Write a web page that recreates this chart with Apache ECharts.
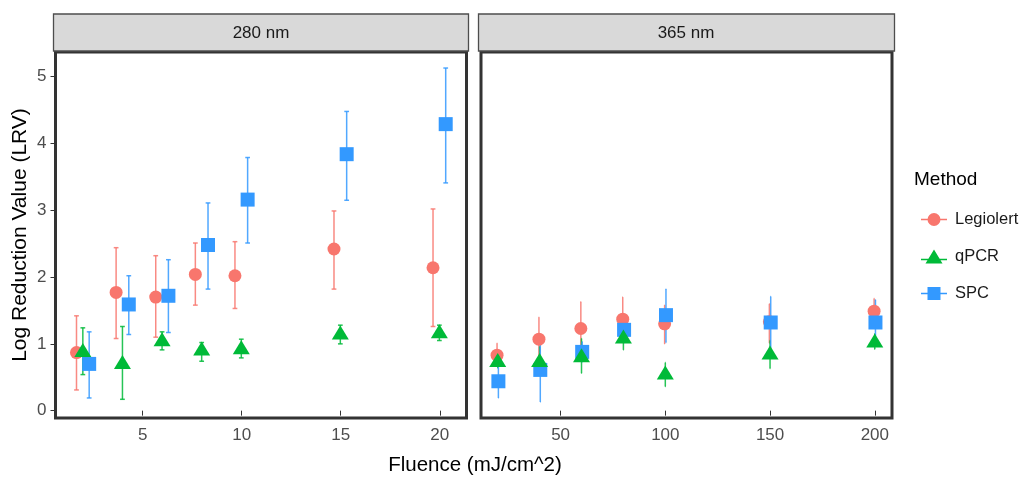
<!DOCTYPE html>
<html>
<head>
<meta charset="utf-8">
<script src="https://cdn.jsdelivr.net/npm/echarts@6/dist/echarts.min.js"></script>
<style>
html,body{margin:0;padding:0;background:#fff}
#chart{width:1025px;height:478px}
</style>
</head>
<body>
<div id="chart"></div>
<script>
var methods = ['Legiolert', 'qPCR', 'SPC'];
var colors = ['#F8766D', '#00BA38', '#3399FF'];

var fluence280 = [2, 4, 6, 8, 10, 15, 20];
var fluence365 = [20, 40, 60, 80, 100, 150, 200];
var ticks280 = [5, 10, 15, 20];
var ticks365 = [50, 100, 150, 200];
var ticksLRV = [0, 1, 2, 3, 4, 5];

// 280 nm
var legiolert280   = [0.87, 1.77, 1.70, 2.04, 2.02, 2.42, 2.14];
var legiolert280Lo = [0.31, 1.08, 1.10, 1.58, 1.53, 1.82, 1.26];
var legiolert280Hi = [1.42, 2.44, 2.32, 2.51, 2.53, 2.99, 3.02];
var qpcr280   = [0.91, 0.73, 1.07, 0.93, 0.95, 1.17, 1.19];
var qpcr280Lo = [0.54, 0.17, 0.91, 0.74, 0.79, 1.00, 1.05];
var qpcr280Hi = [1.24, 1.26, 1.18, 1.02, 1.07, 1.28, 1.28];
var spc280   = [0.70, 1.59, 1.72, 2.48, 3.16, 3.84, 4.29];
var spc280Lo = [0.19, 1.14, 1.17, 1.82, 2.51, 3.15, 3.41];
var spc280Hi = [1.18, 2.02, 2.26, 3.11, 3.79, 4.48, 5.13];

// 365 nm
var legiolert365   = [0.83, 1.07, 1.23, 1.37, 1.30, 1.33, 1.49];
var legiolert365Lo = [0.68, 0.74, 0.83, 1.04, 1.00, 1.01, 1.34];
var legiolert365Hi = [1.01, 1.40, 1.63, 1.70, 1.58, 1.60, 1.68];
var qpcr365   = [0.76, 0.76, 0.83, 1.11, 0.57, 0.87, 1.05];
var qpcr365Lo = [0.64, 0.56, 0.56, 0.91, 0.36, 0.63, 0.92];
var qpcr365Hi = [0.88, 0.96, 1.08, 1.33, 0.72, 1.05, 1.15];
var spc365   = [0.44, 0.61, 0.88, 1.21, 1.43, 1.32, 1.32];
var spc365Lo = [0.19, 0.13, 0.73, 1.02, 1.02, 0.93, 0.98];
var spc365Hi = [0.69, 1.09, 1.03, 1.40, 1.82, 1.71, 1.66];

var dodge = [-0.34, -0.02, 0.3];   // position_dodge, in x units
var capHalf = 0.12;
var font = 'Liberation Sans, Arial, sans-serif';

var panel280 = [[legiolert280, legiolert280Lo, legiolert280Hi],
                [qpcr280, qpcr280Lo, qpcr280Hi],
                [spc280, spc280Lo, spc280Hi]];
var panel365 = [[legiolert365, legiolert365Lo, legiolert365Hi],
                [qpcr365, qpcr365Lo, qpcr365Hi],
                [spc365, spc365Lo, spc365Hi]];

var symbols = ['circle', 'triangle', 'rect'];
var symbolSizes = [13, [17, 14], 14];
var icons = [
  'path://M0,6.3 L26,6.3 L26,7.7 L0,7.7 Z M6.5,7 A6.5,6.5 0 1 1 19.5,7 A6.5,6.5 0 1 1 6.5,7 Z',
  'path://M0,9.3 L26,9.3 L26,10.7 L0,10.7 Z M13,0 L21.5,14 L4.5,14 Z',
  'path://M0,6.3 L26,6.3 L26,7.7 L0,7.7 Z M6.5,0.5 L19.5,0.5 L19.5,13.5 L6.5,13.5 Z'
];

function renderErr(params, api) {
  var x = api.value(0), lo = api.value(1), hi = api.value(2);
  var top = api.coord([x, hi]), bot = api.coord([x, lo]);
  var tl = api.coord([x - capHalf, hi]), tr = api.coord([x + capHalf, hi]);
  var bl = api.coord([x - capHalf, lo]), br = api.coord([x + capHalf, lo]);
  var st = api.style({ stroke: api.visual('color'), lineWidth: 1.5, fill: null });
  st.opacity = 0.85;
  return {
    type: 'group',
    children: [
      { type: 'line', shape: { x1: top[0], y1: top[1], x2: bot[0], y2: bot[1] }, style: st },
      { type: 'line', shape: { x1: tl[0], y1: tl[1], x2: tr[0], y2: tr[1] }, style: st },
      { type: 'line', shape: { x1: bl[0], y1: bl[1], x2: br[0], y2: br[1] }, style: st }
    ]
  };
}

var series = [];
function addPanel(idx, xs, sets) {
  // error bars first, points on top (red, blue, green)
  sets.forEach(function (s, m) {
    series.push({
      name: methods[m], type: 'custom', xAxisIndex: idx, yAxisIndex: idx, z: 2,
      itemStyle: { color: colors[m] },
      renderItem: renderErr,
      encode: { x: 0, y: [1, 2] },
      data: xs.map(function (x, i) { return [x + dodge[m], s[1][i], s[2][i]]; })
    });
  });
  [0, 2, 1].forEach(function (m) {
    var s = sets[m];
    series.push({
      name: methods[m], type: 'scatter', xAxisIndex: idx, yAxisIndex: idx, z: 3,
      symbol: symbols[m], symbolSize: symbolSizes[m],
      itemStyle: { color: colors[m], opacity: 1 },
      data: xs.map(function (x, i) { return [x + dodge[m], s[0][i]]; })
    });
  });
}
addPanel(0, fluence280, panel280);
addPanel(1, fluence365, panel365);

function xAxis(idx, min, max, ticks) {
  return {
    gridIndex: idx, type: 'value', min: min, max: max,
    axisLine: { show: false }, splitLine: { show: false },
    axisTick: { show: true, length: 5, customValues: ticks, lineStyle: { color: '#333', width: 1 } },
    axisLabel: { customValues: ticks, color: '#4D4D4D', fontSize: 17, margin: 9, fontFamily: font }
  };
}
function yAxis(idx, showLabels) {
  return {
    gridIndex: idx, type: 'value', min: -0.11, max: 5.37,
    axisLine: { show: false }, splitLine: { show: false },
    axisTick: { show: showLabels, length: 5, customValues: ticksLRV, lineStyle: { color: '#333', width: 1 } },
    axisLabel: { show: showLabels, customValues: ticksLRV, color: '#4D4D4D', fontSize: 17, margin: 9, fontFamily: font }
  };
}

var chart = echarts.init(document.getElementById('chart'));
chart.setOption({
  animation: false,
  backgroundColor: '#fff',
  grid: [
    { left: 55.5, top: 52, width: 411, height: 366, show: true, borderColor: '#333', borderWidth: 3, backgroundColor: '#fff' },
    { left: 481, top: 52, width: 411, height: 366, show: true, borderColor: '#333', borderWidth: 3, backgroundColor: '#fff' }
  ],
  xAxis: [xAxis(0, 0.6, 21.35, ticks280), xAxis(1, 12, 208.2, ticks365)],
  yAxis: [yAxis(0, true), yAxis(1, false)],
  legend: {
    orient: 'vertical', left: 916, top: 206,
    itemWidth: 26, itemHeight: 14, itemGap: 20, selectedMode: false,
    textStyle: { fontSize: 16.5, color: '#1A1A1A', fontFamily: font, padding: [0, 0, 0, 3] },
    data: methods.map(function (m, i) { return { name: m, icon: icons[i] }; })
  },
  graphic: [
    { type: 'rect', shape: { x: 53.5, y: 14, width: 415, height: 37 }, style: { fill: '#D9D9D9', stroke: '#4D4D4D', lineWidth: 1.3 }, z: 1 },
    { type: 'rect', shape: { x: 478.5, y: 14, width: 416, height: 37 }, style: { fill: '#D9D9D9', stroke: '#4D4D4D', lineWidth: 1.3 }, z: 1 },
    { type: 'text', x: 261, y: 33, style: { text: '280 nm', fontSize: 17, fontFamily: font, fill: '#1A1A1A', textAlign: 'center', textVerticalAlign: 'middle' }, z: 2 },
    { type: 'text', x: 686, y: 33, style: { text: '365 nm', fontSize: 17, fontFamily: font, fill: '#1A1A1A', textAlign: 'center', textVerticalAlign: 'middle' }, z: 2 },
    { type: 'text', x: 475, y: 465, style: { text: 'Fluence (mJ/cm^2)', fontSize: 20.5, fontFamily: font, fill: '#000', textAlign: 'center', textVerticalAlign: 'middle' } },
    { type: 'text', x: 20, y: 235, rotation: Math.PI / 2, style: { text: 'Log Reduction Value (LRV)', fontSize: 21, fontFamily: font, fill: '#000', textAlign: 'center', textVerticalAlign: 'middle' } },
    { type: 'text', x: 914, y: 180, style: { text: 'Method', fontSize: 19, fontFamily: font, fill: '#000', textAlign: 'left', textVerticalAlign: 'middle' } }
  ],
  series: series
});
</script>
</body>
</html>
